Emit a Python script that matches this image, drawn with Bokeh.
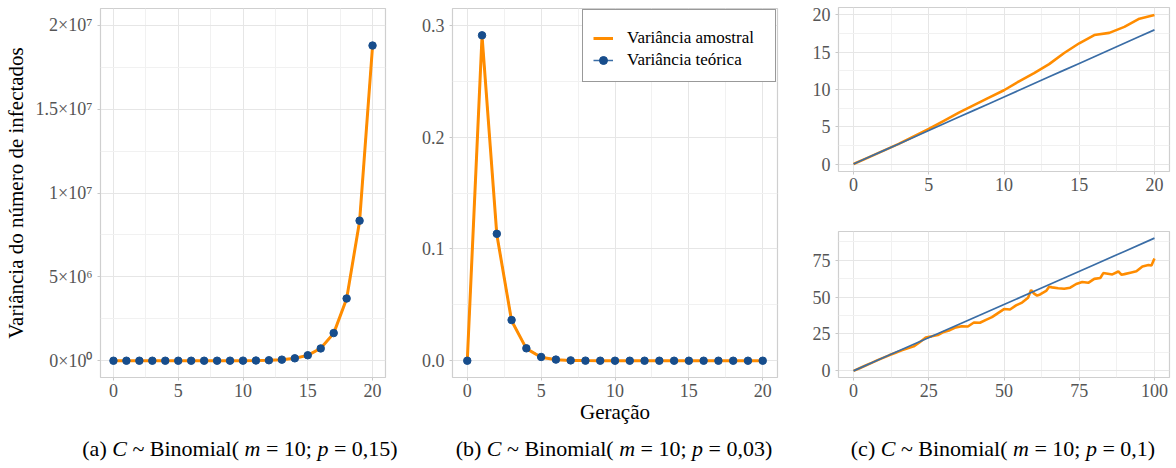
from bokeh.plotting import figure
from bokeh.models import Range1d, FixedTicker, Legend, LegendItem, Div
from bokeh.layouts import row, column
from bokeh.embed import file_html
from bokeh.resources import INLINE

# ---------------- data ----------------
generations = list(range(21))

# (a) C ~ Binomial(m=10; p=0,15)
a_sample = [0, 1.27, 4.8, 13.5, 35.2, 84.6, 199, 470, 1080, 2430, 5610, 12400, 28900,
            63100, 146000, 321000, 741000, 1630000, 3690000, 8320000, 18750000]
a_theory = [0, 1.275, 4.78, 13.63, 34.96, 85.1, 201.2, 467.3, 1073, 2447, 5555, 12572, 28398,
            64060, 144383, 325231, 732324, 1648561, 3710556, 8350663, 18791800]

# (b) C ~ Binomial(m=10; p=0,03)
b_sample = [0, 0.2905, 0.1128, 0.0357, 0.0108, 0.0031, 0.0009, 0.0003, 0.0001, 0.00003, 0.00001,
            0, 0, 0, 0, 0, 0, 0, 0, 0, 0]
b_theory = [0, 0.291, 0.1135, 0.0364, 0.0111, 0.00336, 0.00101, 0.000303, 0.0000909, 0.0000273,
            0.0000082, 0.0000025, 0.00000074, 0.00000022, 0.000000066, 0.00000002, 0.000000006,
            0.0000000018, 0.00000000054, 0.00000000016, 0.000000000048]

# (c) C ~ Binomial(m=10; p=0,1) -- top: 20 generations
c1_sample = [0, 0.9, 1.8, 2.7, 3.7, 4.7, 5.8, 6.9, 7.9, 8.9, 9.9, 11.1, 12.2, 13.4, 14.9,
             16.2, 17.3, 17.6, 18.4, 19.5, 20.0]
c1_theory = [0, 0.9, 1.8, 2.7, 3.6, 4.5, 5.4, 6.3, 7.2, 8.1, 9.0, 9.9, 10.8, 11.7, 12.6,
             13.5, 14.4, 15.3, 16.2, 17.1, 18.0]

# (c) bottom: 100 generations
c2_gen = [0, 2, 4, 6, 8, 10, 12, 14, 16, 18, 20, 22, 24, 26, 28, 30, 32, 34, 36, 38, 40,
          42, 44, 46, 48, 50, 52, 54, 56, 58, 59, 60, 61, 62, 64, 65, 66, 68, 70, 72, 74,
          76, 78, 80, 82, 83, 84, 86, 88, 89, 90, 92, 94, 96, 98, 99, 100]
c2_sample = [0, 1.8, 3.6, 5.4, 7.3, 9.0, 10.7, 12.3, 13.9, 15.3, 16.6, 19.4, 22.6, 23.4, 24.3,
             26.4, 27.6, 29.5, 30.2, 30.1, 32.8, 32.6, 34.6, 36.4, 39.2, 41.9, 41.6, 44.4, 46.3,
             49.6, 54.8, 52.4, 51.0, 51.8, 54.2, 57.0, 56.6, 56.0, 55.7, 56.4, 58.9, 60.3, 59.7,
             62.4, 63.0, 66.3, 66.0, 65.4, 67.4, 65.2, 65.6, 66.6, 67.6, 70.8, 71.8, 71.4, 76.2]
c2_theory_gen = [0, 10, 20, 30, 40, 50, 60, 70, 80, 90, 100]
c2_theory = [0, 9, 18, 27, 36, 45, 54, 63, 72, 81, 90]

# ticks
x20_ticks = [0, 5, 10, 15, 20]
x20_minor = [2.5, 7.5, 12.5, 17.5]
x100_ticks = [0, 25, 50, 75, 100]
x100_minor = [12.5, 37.5, 62.5, 87.5]
a_yticks = [0, 5e6, 1e7, 1.5e7, 2e7]
a_yminor = [2.5e6, 7.5e6, 1.25e7, 1.75e7]
a_ylabels = ["0×10⁰", "5×10⁶", "1×10⁷", "1.5×10⁷", "2×10⁷"]
b_yticks = [0, 0.1, 0.2, 0.3]
b_yminor = [0.05, 0.15, 0.25]
b_ylabels = ["0.0", "0.1", "0.2", "0.3"]
c1_yticks = [0, 5, 10, 15, 20]
c1_yminor = [2.5, 7.5, 12.5, 17.5]
c2_yticks = [0, 25, 50, 75]
c2_yminor = [12.5, 37.5, 62.5, 87.5]

y_title = "Variância do número de infectados"
x_title = "Geração"
legend_labels = ["Variância amostral", "Variância teórica"]
captions = ["(a) <i>C</i> ~ Binomial( <i>m</i> = 10; <i>p</i> = 0,15)",
            "(b) <i>C</i> ~ Binomial( <i>m</i> = 10; <i>p</i> = 0,03)",
            "(c) <i>C</i> ~ Binomial( <i>m</i> = 10; <i>p</i> = 0,1)"]

# ---------------- style ----------------
ORANGE = "#ff8c00"
DOT = "#174d8c"
BLUE = "#3a6da6"
FONT = "Liberation Serif"


def make_fig(w, h, bl, br, bt, bb, xr, yr, xt, xm, yt, ym, ylab=None):
    p = figure(width=w, height=h, x_range=Range1d(*xr), y_range=Range1d(*yr),
               output_backend="svg", toolbar_location=None,
               min_border_left=bl, min_border_right=br,
               min_border_top=bt, min_border_bottom=bb)
    p.background_fill_color = "white"
    p.border_fill_color = "white"
    p.outline_line_color = "#cfcfcf"
    p.outline_line_width = 1.2
    p.xaxis.ticker = FixedTicker(ticks=xt, minor_ticks=xm)
    p.yaxis.ticker = FixedTicker(ticks=yt, minor_ticks=ym)
    if ylab is not None:
        p.yaxis.major_label_overrides = {t: l for t, l in zip(yt, ylab)}
    for ax in p.axis:
        ax.axis_line_color = None
        ax.major_tick_line_color = "#c8c8c8"
        ax.major_tick_out = 3
        ax.major_tick_in = 0
        ax.minor_tick_line_color = None
        ax.major_label_text_font = FONT
        ax.major_label_text_font_size = "18px"
        ax.major_label_text_color = "#555555"
    p.xaxis.major_label_standoff = 2
    p.yaxis.major_label_standoff = 4
    for g in (p.xgrid, p.ygrid):
        g.grid_line_color = "#e6e6e6"
        g.grid_line_width = 1
        g.minor_grid_line_color = "#f1f1f1"
        g.minor_grid_line_width = 1
    return p


# (a)
pa = make_fig(400, 428, 95, 15, 8, 51, (-1, 21), (-1e6, 2.1e7),
              x20_ticks, x20_minor, a_yticks, a_yminor, a_ylabels)
pa.yaxis.axis_label = y_title
pa.yaxis.axis_label_text_font = FONT
pa.yaxis.axis_label_text_font_size = "21px"
pa.yaxis.axis_label_text_font_style = "normal"
pa.yaxis.axis_label_text_color = "black"
pa.yaxis.axis_label_standoff = 5
pa.line(generations, a_theory, line_color=BLUE, line_width=1.5)
pa.line(generations, a_sample, line_color=ORANGE, line_width=3)
pa.scatter(generations, a_theory, size=7.5, color=DOT)

# (b)
pb = make_fig(390, 428, 52, 13, 8, 51, (-1, 21), (-0.015, 0.315),
              x20_ticks, x20_minor, b_yticks, b_yminor, b_ylabels)
pb.xaxis.axis_label = x_title
pb.xaxis.axis_label_text_font = FONT
pb.xaxis.axis_label_text_font_size = "21px"
pb.xaxis.axis_label_text_font_style = "normal"
pb.xaxis.axis_label_text_color = "black"
pb.xaxis.axis_label_standoff = 0
rb_blue = pb.line(generations, b_theory, line_color=BLUE, line_width=1.5)
rb_orange = pb.line(generations, b_sample, line_color=ORANGE, line_width=3)
rb_dots = pb.scatter(generations, b_theory, size=7.5, color=DOT)
legend = Legend(items=[LegendItem(label=legend_labels[0], renderers=[rb_orange]),
                       LegendItem(label=legend_labels[1], renderers=[rb_blue, rb_dots])],
                location="top_right", margin=1, padding=10, spacing=0,
                glyph_width=20, glyph_height=22, label_height=22, label_width=138,
                label_standoff=14, label_text_font=FONT, label_text_font_size="17px",
                label_text_color="black", border_line_color="#333333",
                border_line_width=1.5, background_fill_color="white",
                background_fill_alpha=1.0, title=" ", title_text_font_size="7px",
                title_standoff=0)
pb.add_layout(legend)

# (c) top
pc1 = make_fig(386, 214, 48, 7, 7, 43, (-1, 21), (-1, 21),
               x20_ticks, x20_minor, c1_yticks, c1_yminor)
pc1.line(generations, c1_sample, line_color=ORANGE, line_width=2.6)
pc1.line(generations, c1_theory, line_color=BLUE, line_width=1.7)

# (c) bottom
pc2 = make_fig(386, 214, 48, 7, 17, 51, (-5, 105), (-4.5, 94.5),
               x100_ticks, x100_minor, c2_yticks, c2_yminor)
pc2.line(c2_gen, c2_sample, line_color=ORANGE, line_width=2.6)
pc2.line(c2_theory_gen, c2_theory, line_color=BLUE, line_width=1.7)

# captions
centers = [240, 614, 1003]
inner = "".join(
    f'<div style="position:absolute;left:{c - 200}px;width:400px;top:8px;line-height:26px;'
    f'text-align:center;white-space:nowrap;">{t}</div>'
    for c, t in zip(centers, captions))
cap = Div(text=f'<div style="position:relative;width:1176px;height:40px;font-family:\'{FONT}\';'
               f'font-size:22px;color:black;">{inner}</div>',
          width=1176, height=40, margin=0)

layout = column(row(pa, pb, column(pc1, pc2, spacing=0), spacing=0), cap, spacing=0)

open("out.html", "w").write(file_html(layout, INLINE))
